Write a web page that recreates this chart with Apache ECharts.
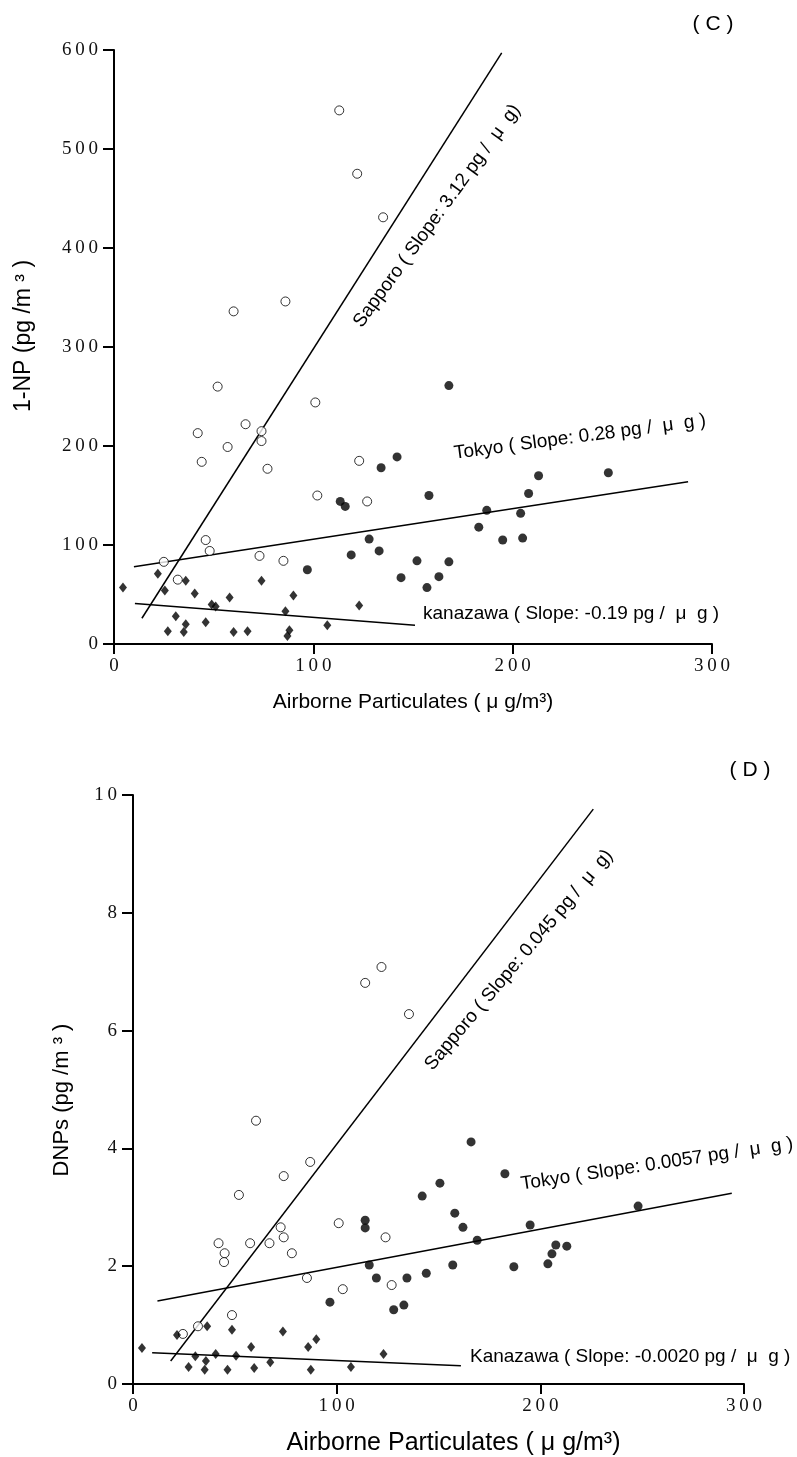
<!DOCTYPE html>
<html lang="en">
<head>
<meta charset="UTF-8">
<title>1-NP and DNPs vs Airborne Particulates</title>
<script src="https://cdn.jsdelivr.net/npm/echarts@6/dist/echarts.min.js"></script>
<style>
    html, body { margin: 0; padding: 0; background: #fff; }
    #chart { width: 797px; height: 1457px; }
</style>
</head>
<body>
<div id="chart"></div>
<script>
// (C) 1-NP (pg/m3) against airborne particulates (ug/m3), [x, y]
const npSapporo = [[113, 539], [122, 475], [135, 431], [60, 336], [86, 346], [52, 260], [101, 244],
    [42, 213], [66, 222], [74, 215], [74, 205], [57, 199], [44, 184], [77, 177], [123, 185],
    [102, 150], [127, 144], [46, 105], [48, 94], [73, 89], [85, 84], [25, 83], [32, 65]];
const npTokyo = [[113.5, 144], [116, 139], [134, 178], [142, 189], [97, 75], [119, 90], [128, 106],
    [133, 94], [168, 261], [158, 150], [213, 170], [248, 173], [208, 152], [187, 135], [204, 132],
    [183, 118], [195, 105], [205, 107], [152, 84], [144, 67], [163, 68], [168, 83], [157, 57]];
const npKanazawa = [[4.5, 57], [22, 71], [25.5, 54], [36, 64], [40.5, 51], [31, 28], [36, 20],
    [27, 13], [35, 12], [46, 22], [51, 38], [49, 40], [58, 47], [60, 12], [67, 13], [74, 64],
    [86, 33], [90, 49], [88, 14], [87, 8], [107, 19], [123, 39]];
// regression lines, end points
const npSapporoFit = [[14, 26], [194.5, 597]];
const npTokyoFit = [[10, 78], [288, 164]];
const npKanazawaFit = [[10.5, 41], [151, 19]];

// (D) DNPs (pg/m3)
const dnpSapporo = [[60.4, 4.47], [87, 3.77], [74, 3.53], [52, 3.21], [101, 2.73], [72.5, 2.66],
    [74, 2.49], [42, 2.39], [57.5, 2.39], [67, 2.39], [45, 2.22], [44.7, 2.07], [78, 2.22],
    [124, 2.49], [85.4, 1.80], [103, 1.61], [127, 1.68], [48.6, 1.17], [31.9, 0.98], [24.5, 0.85],
    [122, 7.08], [114, 6.81], [135.5, 6.28]];
const dnpTokyo = [[114, 2.78], [114, 2.65], [116, 2.02], [119.5, 1.80], [96.7, 1.39], [128, 1.26],
    [166, 4.11], [182.6, 3.57], [150.7, 3.41], [142, 3.19], [158, 2.90], [162, 2.66], [169, 2.44],
    [195, 2.70], [248, 3.02], [207.6, 2.36], [213, 2.34], [205.7, 2.21], [203.7, 2.04], [187, 1.99],
    [157, 2.02], [144, 1.88], [134.5, 1.80], [133, 1.34]];
const dnpKanazawa = [[4.4, 0.61], [21.6, 0.83], [36.4, 0.98], [48.6, 0.92], [73.6, 0.89], [90, 0.76],
    [86, 0.63], [58, 0.63], [30.6, 0.47], [40.6, 0.51], [50.6, 0.48], [35.8, 0.39], [27.3, 0.29],
    [35.2, 0.24], [46.4, 0.24], [59.5, 0.27], [67.4, 0.37], [87.3, 0.24], [107, 0.29], [123, 0.51]];
const dnpSapporoFit = [[18.5, 0.39], [226, 9.76]];
const dnpTokyoFit = [[12, 1.41], [294, 3.24]];
const dnpKanazawaFit = [[9.4, 0.53], [161, 0.31]];

const panelLabels = ['( C )', '( D )'];
const yTitles = ['1-NP (pg /m \u00b3 )', 'DNPs (pg /m \u00b3 )'];
const xTitle = 'Airborne Particulates ( \u03bc g/m\u00b3)';
const npNotes = ['Sapporo ( Slope: 3.12 pg /  \u03bc  g)', 'Tokyo ( Slope: 0.28 pg /  \u03bc  g )',
    'kanazawa ( Slope: -0.19 pg /  \u03bc  g )'];
const dnpNotes = ['Sapporo ( Slope: 0.045 pg /  \u03bc  g)', 'Tokyo ( Slope: 0.0057 pg /  \u03bc  g )',
    'Kanazawa ( Slope: -0.0020 pg /  \u03bc  g )'];

let chart = echarts.init(document.getElementById('chart'));

const sans = 'Liberation Sans, Arial, sans-serif';
const serif = 'Liberation Serif, Times New Roman, serif';
const spaced = function (v) {
    return String(v).split('').join('\u2009');
};

function xAxisOf(grid, gap, size, pad) {
    return {
        gridIndex: grid, type: 'value', min: 0, max: 300, interval: 100,
        axisLine: {onZero: false, lineStyle: {color: '#000', width: 2}},
        axisTick: {length: 10, lineStyle: {color: '#000', width: 2}},
        splitLine: {show: false},
        axisLabel: {formatter: spaced, fontFamily: serif, fontSize: 19, color: '#111', margin: 13},
        name: xTitle, nameLocation: 'middle', nameGap: gap,
        nameTextStyle: {fontFamily: sans, fontSize: size, color: '#000', padding: pad}
    };
}
function yAxisOf(grid, max, step) {
    return {
        gridIndex: grid, type: 'value', min: 0, max: max, interval: step,
        axisLine: {onZero: false, lineStyle: {color: '#000', width: 2}},
        axisTick: {length: 11, lineStyle: {color: '#000', width: 2}},
        splitLine: {show: false},
        axisLabel: {formatter: spaced, fontFamily: serif, fontSize: 19, color: '#111', margin: 16}
    };
}

function openDots(data, i) {
    return {type: 'scatter', xAxisIndex: i, yAxisIndex: i, data: data, symbol: 'circle', symbolSize: 9,
        itemStyle: {color: '#fff', borderColor: '#000', borderWidth: 1}, z: 5};
}
function blackDots(data, i) {
    return {type: 'scatter', xAxisIndex: i, yAxisIndex: i, data: data, symbol: 'circle', symbolSize: 9,
        itemStyle: {color: '#000'}, z: 5};
}
function diamonds(data, i) {
    return {type: 'scatter', xAxisIndex: i, yAxisIndex: i, data: data, symbol: 'diamond', symbolSize: [8, 10],
        itemStyle: {color: '#000'}, z: 5};
}
function fit(data, i) {
    return {type: 'line', xAxisIndex: i, yAxisIndex: i, data: data, showSymbol: false, silent: true,
        lineStyle: {color: '#000', width: 1.5}, z: 3};
}

function note(text, x, y, deg, align) {
    return {type: 'text', x: x, y: y, rotation: deg * Math.PI / 180,
        style: {text: text, font: '19px ' + sans, fill: '#000', textAlign: align || 'center', textVerticalAlign: 'middle'}};
}
function vtitle(text, x, y, size) {
    return {type: 'text', x: x, y: y, rotation: Math.PI / 2,
        style: {text: text, font: size + 'px ' + sans, fill: '#000', textAlign: 'center', textVerticalAlign: 'middle'}};
}

let option = {
    animation: false,
    backgroundColor: '#fff',
    grid: [
        {left: 114, top: 50, width: 598, height: 594},
        {left: 133, top: 795, width: 611, height: 589}
    ],
    xAxis: [xAxisOf(0, 48, 21, [0, 0, 0, 0]), xAxisOf(1, 47, 25, [0, 0, 0, 30])],
    yAxis: [yAxisOf(0, 600, 100), yAxisOf(1, 10, 2)],
    series: [
        fit(npSapporoFit, 0), fit(npTokyoFit, 0), fit(npKanazawaFit, 0),
        openDots(npSapporo, 0), blackDots(npTokyo, 0), diamonds(npKanazawa, 0),
        fit(dnpSapporoFit, 1), fit(dnpTokyoFit, 1), fit(dnpKanazawaFit, 1),
        openDots(dnpSapporo, 1), blackDots(dnpTokyo, 1), diamonds(dnpKanazawa, 1)
    ],
    graphic: [
        {type: 'text', x: 713, y: 24, style: {text: panelLabels[0], font: '21px ' + sans, fill: '#000', textAlign: 'center', textVerticalAlign: 'middle'}},
        {type: 'text', x: 750, y: 770, style: {text: panelLabels[1], font: '21px ' + sans, fill: '#000', textAlign: 'center', textVerticalAlign: 'middle'}},
        vtitle(yTitles[0], 24, 336, 23),
        vtitle(yTitles[1], 62, 1100, 22),
        note(npNotes[0], 437, 216, 54),
        note(npNotes[1], 580, 437, 7.5),
        note(npNotes[2], 423, 614, 0, 'left'),
        note(dnpNotes[0], 519, 960, 50),
        note(dnpNotes[1], 657, 1164, 8.5),
        note(dnpNotes[2], 470, 1357, 0, 'left')
    ]
};
chart.setOption(option);
</script>
</body>
</html>
